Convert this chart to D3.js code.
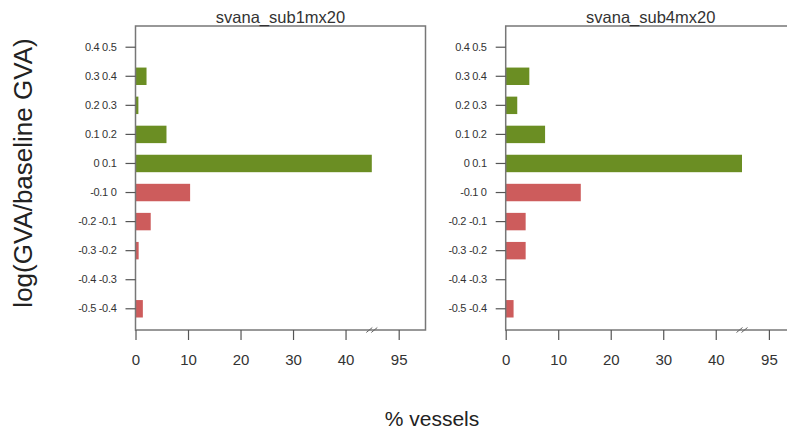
<!DOCTYPE html>
<html>
<head>
<meta charset="utf-8">
<script src="https://cdn.jsdelivr.net/npm/d3@7"></script>
<style>
  body { margin: 0; background: #fff; }
  svg { font-family: Arial, "Liberation Sans", sans-serif; }
</style>
</head>
<body>
<div id="chart"></div>
<script>
// Chart size
const width = 787;
const height = 432;

// Categories, bottom to top (log change bins)
const bins = ["-0.5 -0.4", "-0.4 -0.3", "-0.3 -0.2", "-0.2 -0.1", "-0.1 0",
              "0 0.1", "0.1 0.2", "0.2 0.3", "0.3 0.4", "0.4 0.5"];

// % vessels in each bin (0-0.1 bar runs up to the axis break)
const sub1Values = [1.4, 0, 0.6, 2.9, 10.4, 45, 5.9, 0.55, 2.1, 0];
const sub4Values = [1.5, 0, 3.8, 3.8, 14.3, 45, 7.5, 2.2, 4.5, 0];

const panelTitles = ["svana_sub1mx20", "svana_sub4mx20"];
const xTicks = [0, 10, 20, 30, 40, 95];

const panels = [
  { title: panelTitles[0], values: sub1Values, left: 135.5 },
  { title: panelTitles[1], values: sub4Values, left: 505.7 }
];

const plotTop = 26, plotBottom = 330, plotWidth = 290;

const svg = d3.select("#chart")
  .append("svg")
  .attr("width", width)
  .attr("height", height);

// broken x axis: 0..45 linear, then gap up to 95
const xScale = d3.scaleLinear()
  .domain([0, 45, 95])
  .range([0, 236.3, 263.2]);

const yScale = d3.scaleBand()
  .domain(bins.slice().reverse())
  .range([plotTop, plotBottom])
  .paddingInner(0.4)
  .paddingOuter(0.43);

panels.forEach(p => {
  const g = svg.append("g").attr("transform", `translate(${p.left},0)`);

  // bars
  g.selectAll("rect.bar")
    .data(bins.map((b, i) => ({ bin: b, v: p.values[i] })))
    .enter()
    .append("rect")
    .attr("class", "bar")
    .attr("x", 0)
    .attr("y", d => yScale(d.bin))
    .attr("width", d => xScale(d.v))
    .attr("height", yScale.bandwidth())
    .attr("fill", d => bins.indexOf(d.bin) < 5 ? "#cd5c5c" : "#6b8e23");

  // box
  g.append("rect")
    .attr("x", 0)
    .attr("y", plotTop)
    .attr("width", plotWidth)
    .attr("height", plotBottom - plotTop)
    .attr("fill", "none")
    .attr("stroke", "#777")
    .attr("stroke-width", 1.5);

  // y axis
  const yAxis = g.append("g")
    .call(d3.axisLeft(yScale).tickSize(10).tickPadding(9));
  yAxis.select(".domain").remove();
  yAxis.selectAll("line").attr("stroke", "#555").attr("stroke-width", 1.2);
  yAxis.selectAll("text")
    .attr("fill", "#333")
    .style("font-size", "11px")
    .style("letter-spacing", "-0.3px");

  // x axis
  const xAxis = g.append("g")
    .attr("transform", `translate(0,${plotBottom})`)
    .call(d3.axisBottom(xScale).tickValues(xTicks).tickSize(10).tickPadding(14));
  xAxis.select(".domain").remove();
  xAxis.selectAll("line").attr("stroke", "#555").attr("stroke-width", 1.2);
  xAxis.selectAll("text")
    .attr("fill", "#333")
    .style("font-size", "15px");

  // break marks
  const bx = xScale(45);
  [-2.5, 2.5].forEach(off => {
    g.append("line")
      .attr("x1", bx + off - 3).attr("y1", plotBottom + 2.5)
      .attr("x2", bx + off + 3).attr("y2", plotBottom - 2.5)
      .attr("stroke", "#666")
      .attr("stroke-width", 1);
  });

  // title
  g.append("text")
    .attr("x", plotWidth / 2)
    .attr("y", 22.5)
    .attr("text-anchor", "middle")
    .attr("fill", "#333")
    .style("font-size", "16.5px")
    .text(p.title);
});

// axis labels
svg.append("text")
  .attr("transform", "translate(32,173) rotate(-90)")
  .attr("text-anchor", "middle")
  .attr("fill", "#222")
  .style("font-size", "26px")
  .text("log(GVA/baseline GVA)");

svg.append("text")
  .attr("x", 432)
  .attr("y", 426)
  .attr("text-anchor", "middle")
  .attr("fill", "#222")
  .style("font-size", "21px")
  .text("% vessels");
</script>
</body>
</html>
